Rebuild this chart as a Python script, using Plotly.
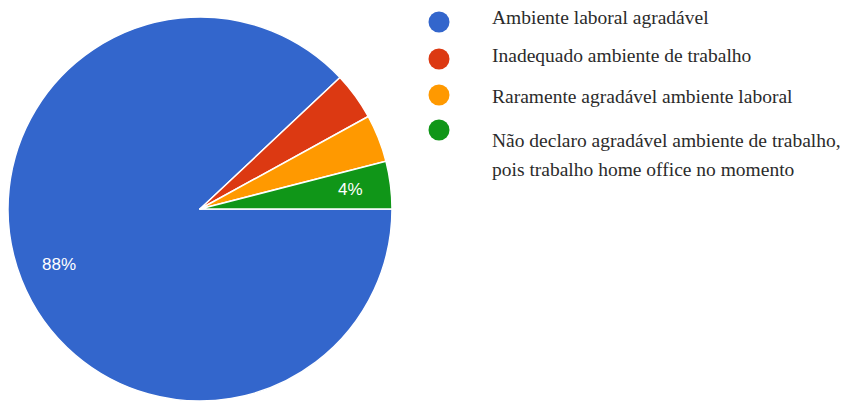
import math
import plotly.graph_objects as go

labels = [
    "Ambiente laboral agradável",
    "Inadequado ambiente de trabalho",
    "Raramente agradável ambiente laboral",
    "Não declaro agradável ambiente de trabalho,<br>pois trabalho home office no momento",
]
values = [88, 4, 4, 4]
slice_text = ["88%", "", "", "4%"]
colors = ["#3366CC", "#DC3912", "#FF9900", "#109618"]

W, H = 859, 409
OFF = 8  # page body offset
cx, cy, r = 200 - OFF, 209 - OFF, 192

fig = go.Figure()
fig.add_trace(go.Pie(
    labels=labels,
    values=values,
    textinfo="none",
    sort=False,
    direction="clockwise",
    rotation=90,
    marker=dict(colors=colors, line=dict(color="white", width=1.5)),
    domain=dict(x=[max(0, (cx - r) / W), (cx + r) / W],
                y=[max(0, (H - cy - r) / H), (H - cy + r) / H]),
    showlegend=False,
    hoverinfo="label+percent",
))

# slice labels placed along each slice's mid-angle (derived from values)
total = sum(values)
start = 90.0  # degrees clockwise from 12 o'clock
for v, t in zip(values, slice_text):
    span = 360.0 * v / total
    mid = math.radians(start + span / 2)
    start += span
    if not t:
        continue
    rr = 0.79 * r
    x = cx + rr * math.sin(mid)
    y = cy - rr * math.cos(mid)
    fig.add_annotation(xref="paper", yref="paper", x=x / W, y=(H - y) / H,
                       text=t, showarrow=False, xanchor="center", yanchor="middle",
                       font=dict(family="Liberation Sans, Arial", size=17, color="white"))

# manual legend
marker_x = 439 - OFF
text_x = 490 - OFF
marker_y = [22, 59, 95, 130]
text_y = [17, 56, 97, 140]
line_gap = 29
for lab, col, my, ty in zip(labels, colors, marker_y, text_y):
    fig.add_shape(type="circle", xref="paper", yref="paper",
                  x0=(marker_x - 10.5) / W, x1=(marker_x + 10.5) / W,
                  y0=(H - (my - OFF) - 10.5) / H, y1=(H - (my - OFF) + 10.5) / H,
                  fillcolor=col, line=dict(width=0))
    for k, line in enumerate(lab.split("<br>")):
        yy = ty - OFF + k * line_gap
        fig.add_annotation(xref="paper", yref="paper", x=text_x / W, y=(H - yy) / H,
                           text=line, showarrow=False, xanchor="left", yanchor="middle",
                           align="left",
                           font=dict(family="Liberation Serif, Times New Roman, serif", size=19.5, color="#2b2b2b"))

fig.update_layout(
    width=W, height=H,
    margin=dict(l=0, r=0, t=0, b=0),
    paper_bgcolor="white",
    plot_bgcolor="white",
)
fig.write_html("out.html")
